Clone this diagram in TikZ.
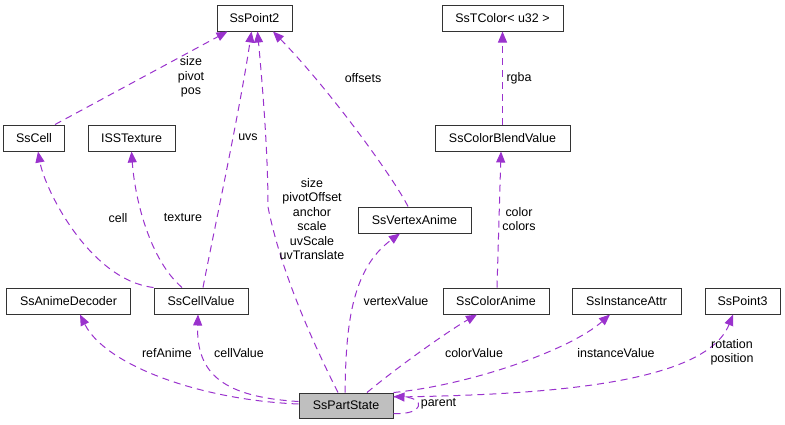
\documentclass[tikz,border=0pt]{standalone}
\usepackage{fontspec}
\setmainfont{Liberation Sans}
\usepackage{tikz}
\usetikzlibrary{arrows.meta}
\definecolor{dxpurple}{RGB}{154,50,205}
\definecolor{dxgray}{RGB}{191,191,191}

\begin{document}
\begin{tikzpicture}[
  x=1bp, y=-1bp,
  font=\fontsize{12.5}{14.5}\selectfont,
  every node/.style={align=center},
  box/.style={draw=black!80, line width=1bp, fill=white, minimum height=26bp, inner sep=0pt},
  usage/.style={dxpurple, line width=1bp, dash pattern=on 7bp off 5bp, -{Triangle[length=11bp,width=9bp]}},
  lbl/.style={inner sep=0pt}
]
\useasboundingbox (0,0) rectangle (785,424);
% classes
\node[box, minimum width=75bp] (p2) at (254.5,18) {SsPoint2};
\node[box, minimum width=121bp] (tc) at (502.5,18) {SsTColor< u32 >};
\node[box, minimum width=60bp] (cell) at (34,138) {SsCell};
\node[box, minimum width=87bp] (tex) at (131.5,138) {ISSTexture};
\node[box, minimum width=135bp] (cbv) at (502.5,138) {SsColorBlendValue};
\node[box, minimum width=113bp] (va) at (414.5,220) {SsVertexAnime};
\node[box, minimum width=123bp] (ad) at (68.5,301) {SsAnimeDecoder};
\node[box, minimum width=94bp] (cv) at (201,301) {SsCellValue};
\node[box, minimum width=106bp] (ca) at (496,301) {SsColorAnime};
\node[box, minimum width=109bp] (ia) at (626.5,301) {SsInstanceAttr};
\node[box, minimum width=75bp] (p3) at (742.5,301) {SsPoint3};
\node[box, fill=dxgray, minimum width=94bp, minimum height=25bp] (ps) at (346,405.5) {SsPartState};
% usage edges
\draw[usage] ([xshift=21bp]cell.north) -- ([xshift=-27bp]p2.south);
\draw[usage] ([xshift=2bp]cv.north) .. controls (210,250) and (240,110) .. ([xshift=-3bp]p2.south);
\draw[usage] ([xshift=-8bp]ps.north) .. controls (308,333) and (280,267) .. (268,207)
  .. controls (268,150) and (262,80) .. ([xshift=3bp]p2.south);
\draw[usage] ([xshift=-6.5bp]va.north) .. controls (395,180) and (330,90) .. ([xshift=18.5bp]p2.south);
\draw[usage] (cv.north west) .. controls (90,280) and (45,190) .. ([xshift=4bp]cell.south);
\draw[usage] ([xshift=-19bp]cv.north) .. controls (150,260) and (135,200) .. (tex.south);
\draw[usage] (cbv.north) -- (tc.south);
\draw[usage] ([xshift=1bp]ca.north) -- ([xshift=-1.5bp]cbv.south);
\draw[usage] ([yshift=1.5bp]ps.west) .. controls (200,400) and (105,365) .. ([xshift=11.5bp]ad.south);
\draw[usage] ([yshift=4bp]ps.west) .. controls (225,397) and (196,375) .. ([xshift=-3bp]cv.south);
\draw[usage] ([xshift=-1bp]ps.north) .. controls (346,330) and (350,270) .. ([xshift=-14.5bp]va.south);
\draw[usage] ([xshift=21bp]ps.north) .. controls (400,365) and (450,330) .. ([xshift=-19bp]ca.south);
\draw[usage] (ps.north east) .. controls (470,385) and (570,350) .. ([xshift=-16.5bp]ia.south);
\draw[usage] ([yshift=8.5bp]ps.east) .. controls (540,395) and (705,385) .. ([xshift=-9.5bp]p3.south);
\draw[usage] ([yshift=-8bp]ps.east) .. controls (425,415) and (425,398) .. ([yshift=9bp]ps.east);
% edge labels
\node[lbl] (lpos) at (191,77) {size\\pivot\\pos};
\node[lbl] (luvs) at (248,137) {uvs};
\node[lbl] (lsize) at (312,219) {size\\pivotOffset\\anchor\\scale\\uvScale\\uvTranslate};
\node[lbl] (loff) at (363,78) {offsets};
\node[lbl] (lrgba) at (519,78) {rgba};
\node[lbl] (lcol) at (519,219) {color\\colors};
\node[lbl] (lcell) at (118,218) {cell};
\node[lbl] (ltex) at (183,218) {texture};
\node[lbl] (lref) at (167,353) {refAnime};
\node[lbl] (lcv) at (239,353) {cellValue};
\node[lbl] (lva) at (396,301) {vertexValue};
\node[lbl] (lcav) at (474,353) {colorValue};
\node[lbl] (lia) at (616,353) {instanceValue};
\node[lbl] (lrot) at (732,352) {rotation\\position};
\node[lbl] (lpar) at (438.5,404) {parent};
\end{tikzpicture}
\end{document}
